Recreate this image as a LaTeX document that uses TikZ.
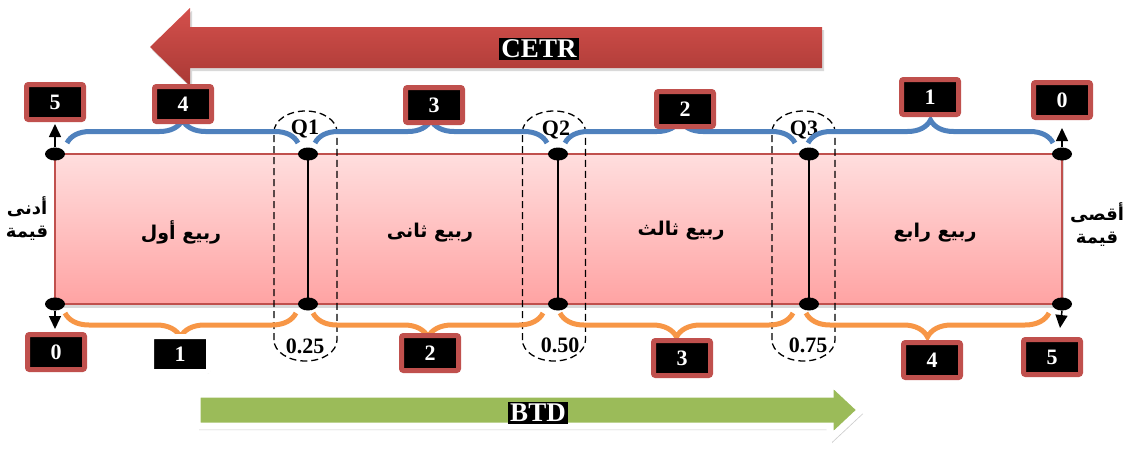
\documentclass[tikz,border=0pt]{standalone}
\usepackage{fontspec}
\setmainfont{Liberation Serif}
\newfontfamily\arabicfont[Script=Arabic]{DejaVu Sans}
\TeXXeTstate=1
\usetikzlibrary{arrows.meta,decorations.pathreplacing,shadows,shapes.geometric}
\definecolor{boxred}{HTML}{C0504D}
\definecolor{braceblue}{HTML}{4F81BD}
\definecolor{braceorange}{HTML}{F79646}
\definecolor{arrowgreen}{HTML}{9BBB59}
\definecolor{pinktop}{HTML}{FFDEDE}
\definecolor{pinkbot}{HTML}{FFA3A3}
\definecolor{redtop}{HTML}{D4504C}
\definecolor{redbot}{HTML}{A93935}
\tikzset{
  numbox/.style={fill=black, draw=boxred, line width=5pt, rounded corners=2pt,
    minimum width=57pt, minimum height=35pt, inner sep=0pt, text=white,
    font=\fontsize{22}{22}\selectfont\bfseries},
  whitebox/.style={numbox, draw=white,
    drop shadow={opacity=0.3, shadow xshift=1.5pt, shadow yshift=-2pt}},
  blackdot/.style={ellipse, fill=black, minimum width=20pt, minimum height=13pt, inner sep=0pt},
  qlabel/.style={font=\fontsize{22}{22}\selectfont\bfseries, inner sep=0pt},
  arlabel/.style={font=\arabicfont\bfseries\fontsize{19}{24}\selectfont, align=center, inner sep=0pt},
  sidelabel/.style={font=\arabicfont\bfseries\fontsize{18}{23}\selectfont, align=center, inner sep=0pt},
  topbrace/.style={draw=braceblue, line width=5pt, decorate, decoration={brace, amplitude=23pt}},
  botbrace/.style={draw=braceorange, line width=5pt, decorate, decoration={brace, mirror, amplitude=24pt}},
  endarrow/.style={-{Triangle[width=12pt,length=13pt]}, line width=1.5pt},
  qoval/.style={dash pattern=on 7pt off 4pt, line width=1.3pt},
  biglabel/.style={fill=black, text=white, inner sep=2pt, font=\fontsize{27}{27}\selectfont\bfseries},
}
\begin{document}
\begin{tikzpicture}[x=1pt,y=-1pt]
\useasboundingbox (0,0) rectangle (1127,458);

% big red arrow (CETR)
\draw[draw=none, top color=redtop, bottom color=redbot,
  drop shadow={opacity=0.3, shadow xshift=2pt, shadow yshift=-3pt}]
  (822,27) -- (190,27) -- (190,8) -- (150,47) -- (190,86) -- (190,68) -- (822,68) -- cycle;
\node[biglabel] (cetr) at (539,49) {CETR};

% big green arrow (BTD)
\draw[fill=arrowgreen, draw=white, line width=7pt, line join=miter,
  drop shadow={opacity=0.4, shadow xshift=2pt, shadow yshift=-4pt}]
  (197,394) -- (830,394) -- (830,381) -- (861,410) -- (830,439) -- (830,426) -- (197,426) -- cycle;
\node[biglabel] (btd) at (538,413) {BTD};

% main rectangle
\draw[top color=pinktop, bottom color=pinkbot, draw=boxred, line width=1.5pt,
  drop shadow={opacity=0.3, shadow xshift=2pt, shadow yshift=-4pt}]
  (55,154) rectangle (1062,304);

% dashed ovals
\foreach \cx in {305.5,554,803.5}{
  \draw[qoval] (\cx-31.5,340) -- (\cx-31.5,132)
    arc[start angle=180, end angle=360, x radius=31.5, y radius=21]
    -- (\cx+31.5,340)
    arc[start angle=0, end angle=180, x radius=31.5, y radius=21];
}

% dots
\node[blackdot] (t0) at (55,154) {};
\node[blackdot] (t1) at (308,154) {};
\node[blackdot] (t2) at (558,154) {};
\node[blackdot] (t3) at (809,154) {};
\node[blackdot] (t4) at (1062,154) {};
\node[blackdot] (b0) at (55,304) {};
\node[blackdot] (b1) at (308,304) {};
\node[blackdot] (b2) at (558,304) {};
\node[blackdot] (b3) at (809,304) {};
\node[blackdot] (b4) at (1062,304) {};

% quartile lines
\draw[line width=1.3pt] (t1.center) -- (b1.center);
\draw[line width=1.3pt] (t2.center) -- (b2.center);
\draw[line width=1.3pt] (t3.center) -- (b3.center);

% end arrows
\coordinate (u0) at (55,124);
\coordinate (d0) at (55,329);
\coordinate (u4) at (1062,128);
\coordinate (d4) at (1060,328);
\draw[endarrow] (t0.north) -- (u0);
\draw[endarrow] (b0.south) -- (d0);
\draw[endarrow] (t4.north) -- (u4);
\draw[endarrow] (b4.south) -- (d4);

% labels inside
\node[arlabel] (r1) at (181,232) {\beginR ربيع أول\endR};
\node[arlabel] (r2) at (430,233) {\beginR ربيع ثانى\endR};
\node[arlabel] (r3) at (681,231) {\beginR ربيع ثالث\endR};
\node[arlabel] (r4) at (935,233) {\beginR ربيع رابع\endR};
\node[sidelabel] (minv) at (27,219) {\beginR أدنى\endR\\\beginR قيمة\endR};
\node[sidelabel] (maxv) at (1097,225) {\beginR أقصى\endR\\\beginR قيمة\endR};

% Q labels
\node[qlabel] (q1) at (305,129) {Q1};
\node[qlabel] (q2) at (556,130) {Q2};
\node[qlabel] (q3) at (804,130) {Q3};
\node[qlabel] (p25) at (305,346) {0.25};
\node[qlabel] (p50) at (560,345) {0.50};
\node[qlabel] (p75) at (808,345) {0.75};

% top braces
\coordinate (ta1) at (67,143);  \coordinate (tb1) at (298,143);
\coordinate (ta2) at (315,143); \coordinate (tb2) at (547,143);
\coordinate (ta3) at (565,143); \coordinate (tb3) at (795,143);
\coordinate (ta4) at (808,143); \coordinate (tb4) at (1053,143);
\draw[topbrace] (ta1) -- (tb1);
\draw[topbrace] (ta2) -- (tb2);
\draw[topbrace] (ta3) -- (tb3);
\draw[topbrace] (ta4) -- (tb4);

% bottom braces
\coordinate (ba1) at (65,313);  \coordinate (bb1) at (296,313);
\coordinate (ba2) at (313,313); \coordinate (bb2) at (543,313);
\coordinate (ba3) at (560,313); \coordinate (bb3) at (793,313);
\coordinate (ba4) at (806,313); \coordinate (bb4) at (1049,313);
\draw[botbrace] (ba1) -- (bb1);
\draw[botbrace] (ba2) -- (bb2);
\draw[botbrace] (ba3) -- (bb3);
\draw[botbrace] (ba4) -- (bb4);

% number boxes top
\node[numbox] (n5) at (55,102) {5};
\node[numbox] (n4) at (183,104) {4};
\node[numbox] (n3) at (434,105) {3};
\node[numbox] (n2) at (685,109) {2};
\node[numbox] (n1) at (930,97) {1};
\node[numbox] (n0) at (1062,100) {0};

% number boxes bottom
\node[numbox] (m0) at (56,352) {0};
\node[whitebox] (m1) at (180,354) {1};
\node[numbox] (m2) at (430,353) {2};
\node[numbox] (m3) at (682,358) {3};
\node[numbox] (m4) at (932,360) {4};
\node[numbox] (m5) at (1052,357) {5};
\end{tikzpicture}
\end{document}
